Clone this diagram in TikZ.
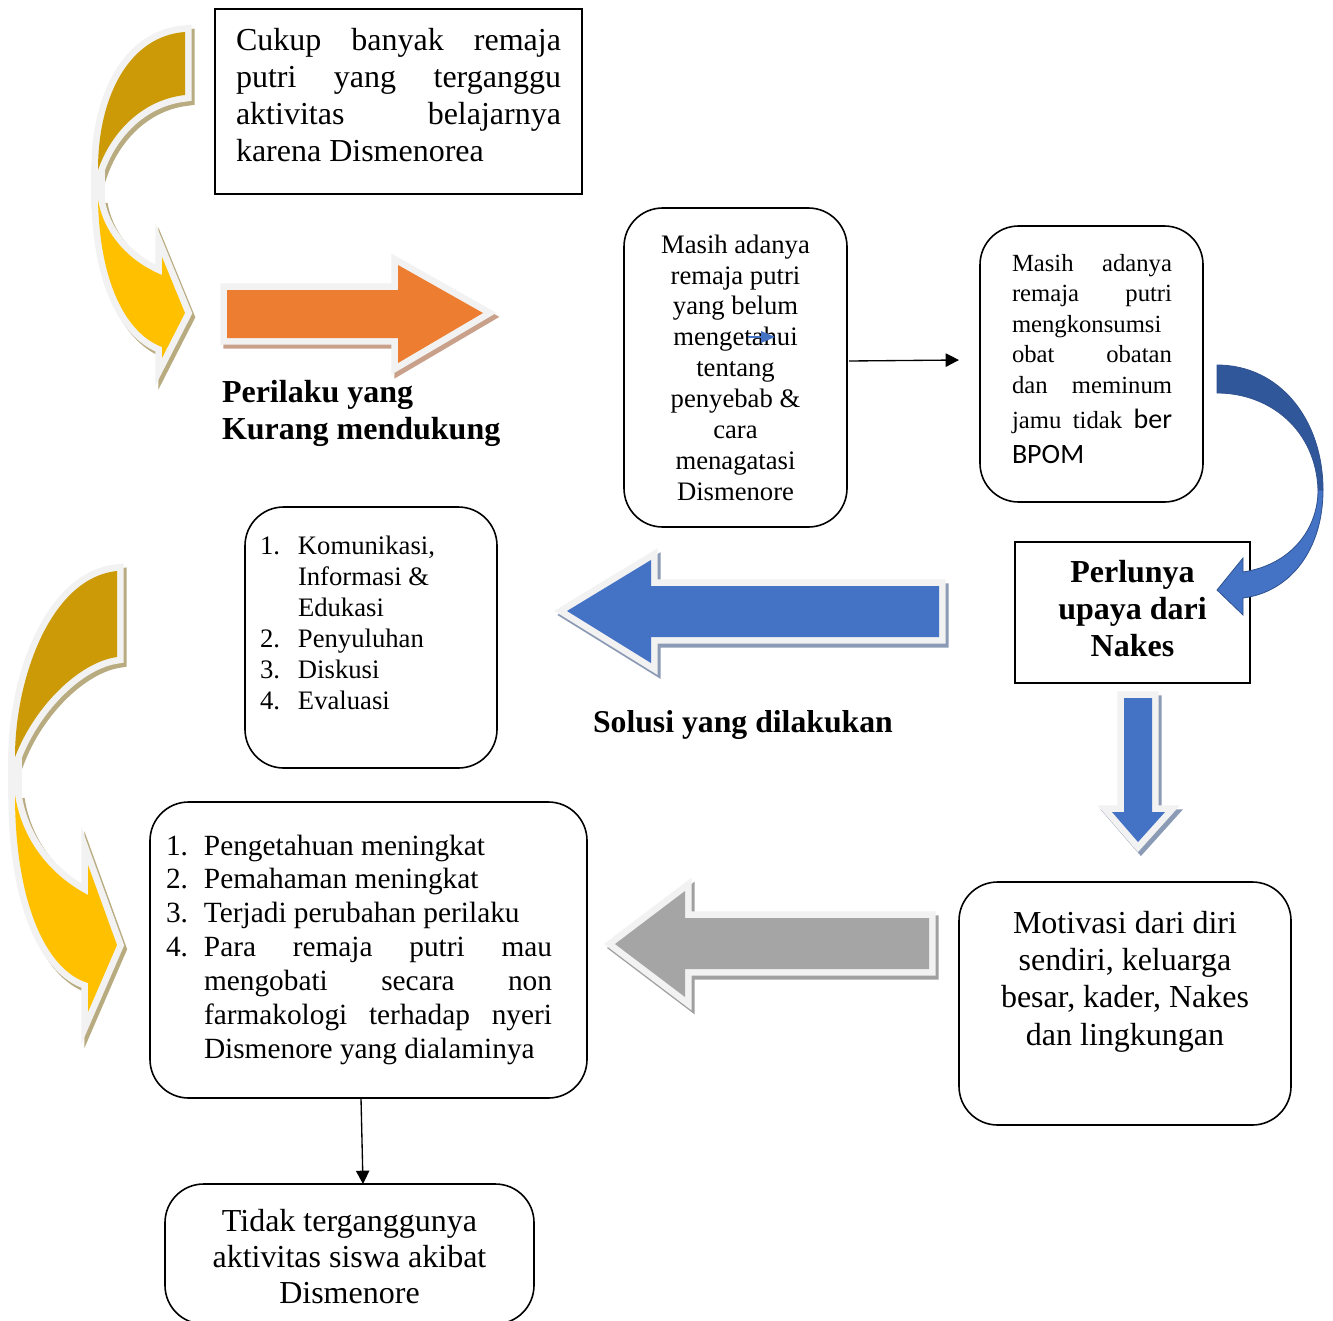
\documentclass[tikz,border=0pt]{standalone}
\usepackage{fontspec}
\setmainfont{Liberation Serif}
\newfontfamily\calibrifont{Carlito}
\usetikzlibrary{arrows.meta,calc}
\definecolor{orng}{HTML}{ED7D31}
\definecolor{orngsh}{HTML}{C9A089}
\definecolor{bluef}{HTML}{4472C4}
\definecolor{bluesh}{HTML}{8C9BB5}
\definecolor{blued}{HTML}{31579B}
\definecolor{blueline}{HTML}{2F528F}
\definecolor{grayf}{HTML}{A5A5A5}
\definecolor{graysh}{HTML}{A0A0A0}
\definecolor{golddark}{HTML}{CC9A06}
\definecolor{goldlight}{HTML}{FFC000}
\definecolor{goldsh}{HTML}{B9AB80}
\definecolor{bord}{HTML}{F2F2F2}
\newcommand\boxtext[4]{\parbox[c][#2][t]{#1}{\vspace*{#3}#4}}
\newcommand\blockarrow[3]{%
  \begin{scope}[shift={(3,4)}]\path[fill=#2,draw=#2,line width=10pt,line join=miter,miter limit=6] #3;\end{scope}
  \path[fill=bord,draw=bord,line width=10pt,line join=miter,miter limit=6] #3;
  \path[fill=#1] #3;}
\newcommand\goldarrow[3]{%
  \begin{scope}[shift={(3,4)}]
    \path[fill=goldsh,draw=goldsh,line width=10pt,line join=miter,miter limit=6] #1;
    \path[fill=goldsh,draw=goldsh,line width=10pt,line join=miter,miter limit=6] #2;
  \end{scope}
  \path[fill=bord,draw=bord,line width=10pt,line join=miter,miter limit=6] #1;
  \path[fill=bord,draw=bord,line width=10pt,line join=miter,miter limit=6] #2;
  \path[draw=bord,line width=10pt] #3;
  \path[fill=golddark] #1;
  \path[fill=goldlight] #2;}
\begin{document}
\begin{tikzpicture}[x=0.75pt,y=-0.75pt,
  box/.style={draw=black,line width=1.2pt,inner sep=0pt,outer sep=0pt,anchor=north west,fill=white},
  rbox/.style={box,rounded corners=29pt},
  conn/.style={line width=1pt,-{Triangle[length=10pt,width=10pt]}},
  lbl/.style={inner sep=0pt,outer sep=0pt,anchor=base west}]
\useasboundingbox (0,0) rectangle (1333,1320);
\fill[white] (0,0) rectangle (1333,1320);

% gold curved arrow 1
\goldarrow{(185,32) .. controls (130,36) and (98,95) .. (98,170) .. controls (110,135) and (140,100) .. (185,95) -- cycle}
  {(98,200) .. controls (100,290) and (130,335) .. (162,347) -- (162,358) -- (185,313) -- (162,257) -- (162,275) .. controls (130,262) and (104,235) .. (98,200) -- cycle}
  {(98,165) -- (98,205)}
% gold curved arrow 2
\goldarrow{(117,571) .. controls (50,578) and (15,680) .. (15,757) .. controls (35,705) and (80,662) .. (117,657) -- cycle}
  {(15,795) .. controls (15,900) and (45,970) .. (88,983) -- (88,1012) -- (117,945) -- (88,865) -- (88,895) .. controls (50,875) and (22,840) .. (15,795) -- cycle}
  {(15,752) -- (15,800)}
% orange arrow
\blockarrow{orng}{orngsh}{(227,290) -- (398,290) -- (398,265) -- (483,313) -- (398,363) -- (398,338) -- (227,338) -- cycle}
% blue left arrow
\blockarrow{bluef}{bluesh}{(939,586) -- (651,586) -- (651,560) -- (567,611) -- (651,663) -- (651,637) -- (939,637) -- cycle}
% blue down arrow
\blockarrow{bluef}{bluesh}{(1124,698) -- (1152,698) -- (1152,812) -- (1165,812) -- (1138,842) -- (1112,812) -- (1124,812) -- cycle}
% gray left arrow
\blockarrow{grayf}{graysh}{(929,918) -- (685,918) -- (685,891) -- (615,944) -- (685,997) -- (685,969) -- (929,969) -- cycle}

% boxes
\node[box] (b1) at (215,9) {\boxtext{275.25pt}{138.75pt}{11.33pt}{\fontsize{24}{27.75}\selectfont\hspace*{15.75pt}\parbox[t]{243.75pt}{\strut\makebox[243.75pt][s]{Cukup banyak remaja}\\ \makebox[243.75pt][s]{putri yang terganggu}\\ \makebox[243.75pt][s]{aktivitas belajarnya}\\ karena Dismenorea}}};

\node[rbox] (b2) at (624,208) {\boxtext{167.25pt}{239.25pt}{17.6pt}{\fontsize{20}{23.2}\selectfont\centering\strut Masih adanya\\ remaja putri\\ yang belum\\ mengetahui\\ tentang\\ penyebab \&\\ cara\\ menagatasi\\ Dismenore\par}};

\node[rbox] (b3) at (980,226) {\boxtext{167.25pt}{207pt}{17.72pt}{\fontsize{18.5}{22.9}\selectfont\hspace*{24pt}\parbox[t]{120pt}{\strut\makebox[120pt][s]{Masih adanya}\\ \makebox[120pt][s]{remaja putri}\\ \makebox[120pt][s]{mengkonsumsi}\\ \makebox[120pt][s]{obat obatan}\\ \makebox[120pt][s]{dan meminum}\\[3.35pt] \makebox[120pt][s]{jamu tidak {\calibrifont\fontsize{21}{26}\selectfont ber}}\\[3.35pt] {\calibrifont\fontsize{21}{26}\selectfont BPOM}}}};

\node[box] (b4) at (1015,542) {\boxtext{176.25pt}{105.75pt}{10.58pt}{\fontsize{24}{27.75}\selectfont\bfseries\centering\strut Perlunya\\ upaya dari\\ Nakes\par}};

\node[rbox] (b5) at (245,507) {\boxtext{189pt}{195.75pt}{18.98pt}{\fontsize{20}{23.25}\selectfont\hspace*{11.25pt}\parbox[t]{170pt}{\strut\makebox[28.5pt][l]{1.}Komunikasi,\\ \hspace*{28.5pt}Informasi \&\\ \hspace*{28.5pt}Edukasi\\ \makebox[28.5pt][l]{2.}Penyuluhan\\ \makebox[28.5pt][l]{3.}Diskusi\\ \makebox[28.5pt][l]{4.}Evaluasi}}};

\node[rbox] (b6) at (150,802) {\boxtext{327.75pt}{222pt}{21.97pt}{\fontsize{22}{25.4}\selectfont\hspace*{12pt}\parbox[t]{300pt}{\strut\makebox[28.5pt][l]{1.}Pengetahuan meningkat\\ \makebox[28.5pt][l]{2.}Pemahaman meningkat\\ \makebox[28.5pt][l]{3.}Terjadi perubahan perilaku\\ \makebox[28.5pt][l]{4.}\makebox[261pt][s]{Para remaja putri mau}\\ \hspace*{28.5pt}\makebox[261pt][s]{mengobati secara non}\\ \hspace*{28.5pt}\makebox[261pt][s]{farmakologi terhadap nyeri}\\ \hspace*{28.5pt}Dismenore yang dialaminya}}};

\node[rbox] (b7) at (959,882) {\boxtext{249pt}{182.25pt}{18.65pt}{\fontsize{24}{28}\selectfont\centering\strut Motivasi dari diri\\ sendiri, keluarga\\ besar, kader, Nakes\\ dan lingkungan\par}};

\node[rbox] (b8) at (165,1184) {\boxtext{276.75pt}{105pt}{16.35pt}{\fontsize{24}{27}\selectfont\centering\strut Tidak terganggunya\\ aktivitas siswa akibat\\ Dismenore\par}};

% labels
\node[lbl] (l1) at (222,402) {\parbox[t]{250pt}{\fontsize{24}{27.75}\selectfont\bfseries Perilaku yang\\ Kurang mendukung}};
\node[lbl] (l2) at (593,732) {\fontsize{23.8}{27}\selectfont\bfseries Solusi yang dilakukan};

% small blue arrow over text
\draw[bluef,line width=1.2pt] (748,337) -- (762,337);
\fill[bluef] (761,331) -- (775,337) -- (761,343) -- cycle;

% connectors
\draw[conn] ($(b2.east)+(2,-6.5)$) -- ($(b3.west)+(-21,-4)$);
\draw[conn] ($(b6.south)+(-7.5,0)$) -- ($(b8.north)+(13.5,0)$);

% blue curved arrow
\path[fill=blued,draw=blueline,line width=0.6pt] (1217,365) .. controls (1280,365) and (1323,420) .. (1323,490) -- (1318,490) .. controls (1316,430) and (1270,393) .. (1217,393) -- cycle;
\path[fill=bluef,draw=blueline,line width=0.6pt] (1323,490) .. controls (1323,550) and (1290,592) .. (1243,598) -- (1243,615) -- (1217,590) -- (1243,558) -- (1243,572) .. controls (1290,565) and (1318,530) .. (1318,490) -- cycle;
\end{tikzpicture}
\end{document}
